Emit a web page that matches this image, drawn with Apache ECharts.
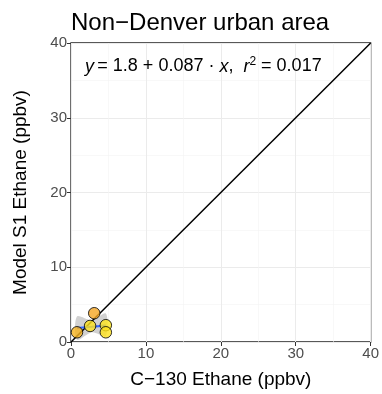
<!DOCTYPE html>
<html>
<head>
<meta charset="utf-8">
<script src="https://cdn.jsdelivr.net/npm/echarts@6/dist/echarts.min.js"></script>
<style>html,body{margin:0;padding:0;background:#fff}#c{width:382px;height:394px}</style>
</head>
<body>
<div id="c"></div>
<script>
// Data
const obsX = [0.8, 3.1, 2.55, 4.65, 4.65];
const modY = [1.3, 3.85, 2.15, 2.25, 1.3];
const pointColors = ['#F6B31E', '#F5A623', '#FFE21C', '#FFE61C', '#FFE21C'];
const fitX = [0.8, 2.8, 4.65];
const fitY = [1.87, 2.04, 2.2];
const bandLow = [0.3, 1.3, 0.8];
const bandHigh = [3.4, 2.9, 3.8];
const oneToOne = [[0, 0], [40, 40]];

const chart = echarts.init(document.getElementById('c'), null, {renderer: 'canvas'});
const font = 'Liberation Sans, Arial, Helvetica, sans-serif';
function axis(name, gap, rotate) {
  return {
    type: 'value', min: 0, max: 40, interval: 10,
    name: name, nameLocation: 'middle', nameGap: gap, nameRotate: rotate,
    nameTextStyle: {color: '#000', fontSize: 19, fontFamily: font},
    axisLine: {show: false},
    axisTick: {show: true, length: 4, lineStyle: {color: '#333'}},
    axisLabel: {color: '#4D4D4D', fontSize: 15, fontFamily: font, margin: 4},
    splitLine: {show: true, lineStyle: {color: '#EBEBEB', width: 1}},
    minorTick: {show: false, splitNumber: 2},
    minorSplitLine: {show: true, lineStyle: {color: '#F3F3F3', width: 0.6}}
  };
}
// band polygon: lower edge forward, upper edge backward
const bandPoly = fitX.map((x, i) => [x, bandLow[i]]).concat(fitX.map((x, i) => [x, bandHigh[i]]).reverse());
chart.setOption({
  animation: false,
  title: {
    text: 'Non\u2212Denver urban area', left: 66, top: 6,
    textStyle: {fontSize: 24, fontWeight: 'normal', color: '#000', fontFamily: font}
  },
  grid: {left: 71, right: 11, top: 43, bottom: 51, show: true, borderColor: '#222', borderWidth: 1.3, backgroundColor: '#fff'},
  xAxis: axis('C\u2212130 Ethane (ppbv)', 28, 0),
  yAxis: axis('Model S1 Ethane (ppbv)', 41, 90),
  series: [
    {type: 'custom', data: [0], z: 2, silent: true,
     renderItem: function (params, api) {
       return {type: 'polygon', shape: {points: bandPoly.map(p => api.coord(p)), smooth: 0.3},
               style: {fill: 'rgba(153,153,153,0.45)'}};
     }},
    {type: 'line', data: oneToOne, symbol: 'none', lineStyle: {color: '#000', width: 1.5}, z: 3},
    {type: 'line', data: fitX.map((x, i) => [x, fitY[i]]), symbol: 'none', lineStyle: {color: '#3366FF', width: 2.2}, z: 4},
    {type: 'scatter', data: obsX.map((x, i) => ({value: [x, modY[i]], itemStyle: {color: pointColors[i]}})),
     symbolSize: 11.5, itemStyle: {borderColor: '#000', borderWidth: 1}, z: 5}
  ],
  graphic: [{
    type: 'text', left: 85, top: 56, z: 10,
    style: {
      rich: {
        i: {fontStyle: 'italic', fontSize: 18, fontFamily: font, fill: '#000'},
        n: {fontSize: 18, fontFamily: font, fill: '#000'},
        s: {fontSize: 12, fontFamily: font, fill: '#000', verticalAlign: 'top', padding: [0, 0, 9, 0]}
      },
      text: '{i|y} {n|= 1.8 + 0.087 \u00b7 }{i|x}{n|,  }{i|r}{s|2}{n| = 0.017}'
    }
  }]
});
</script>
</body>
</html>
